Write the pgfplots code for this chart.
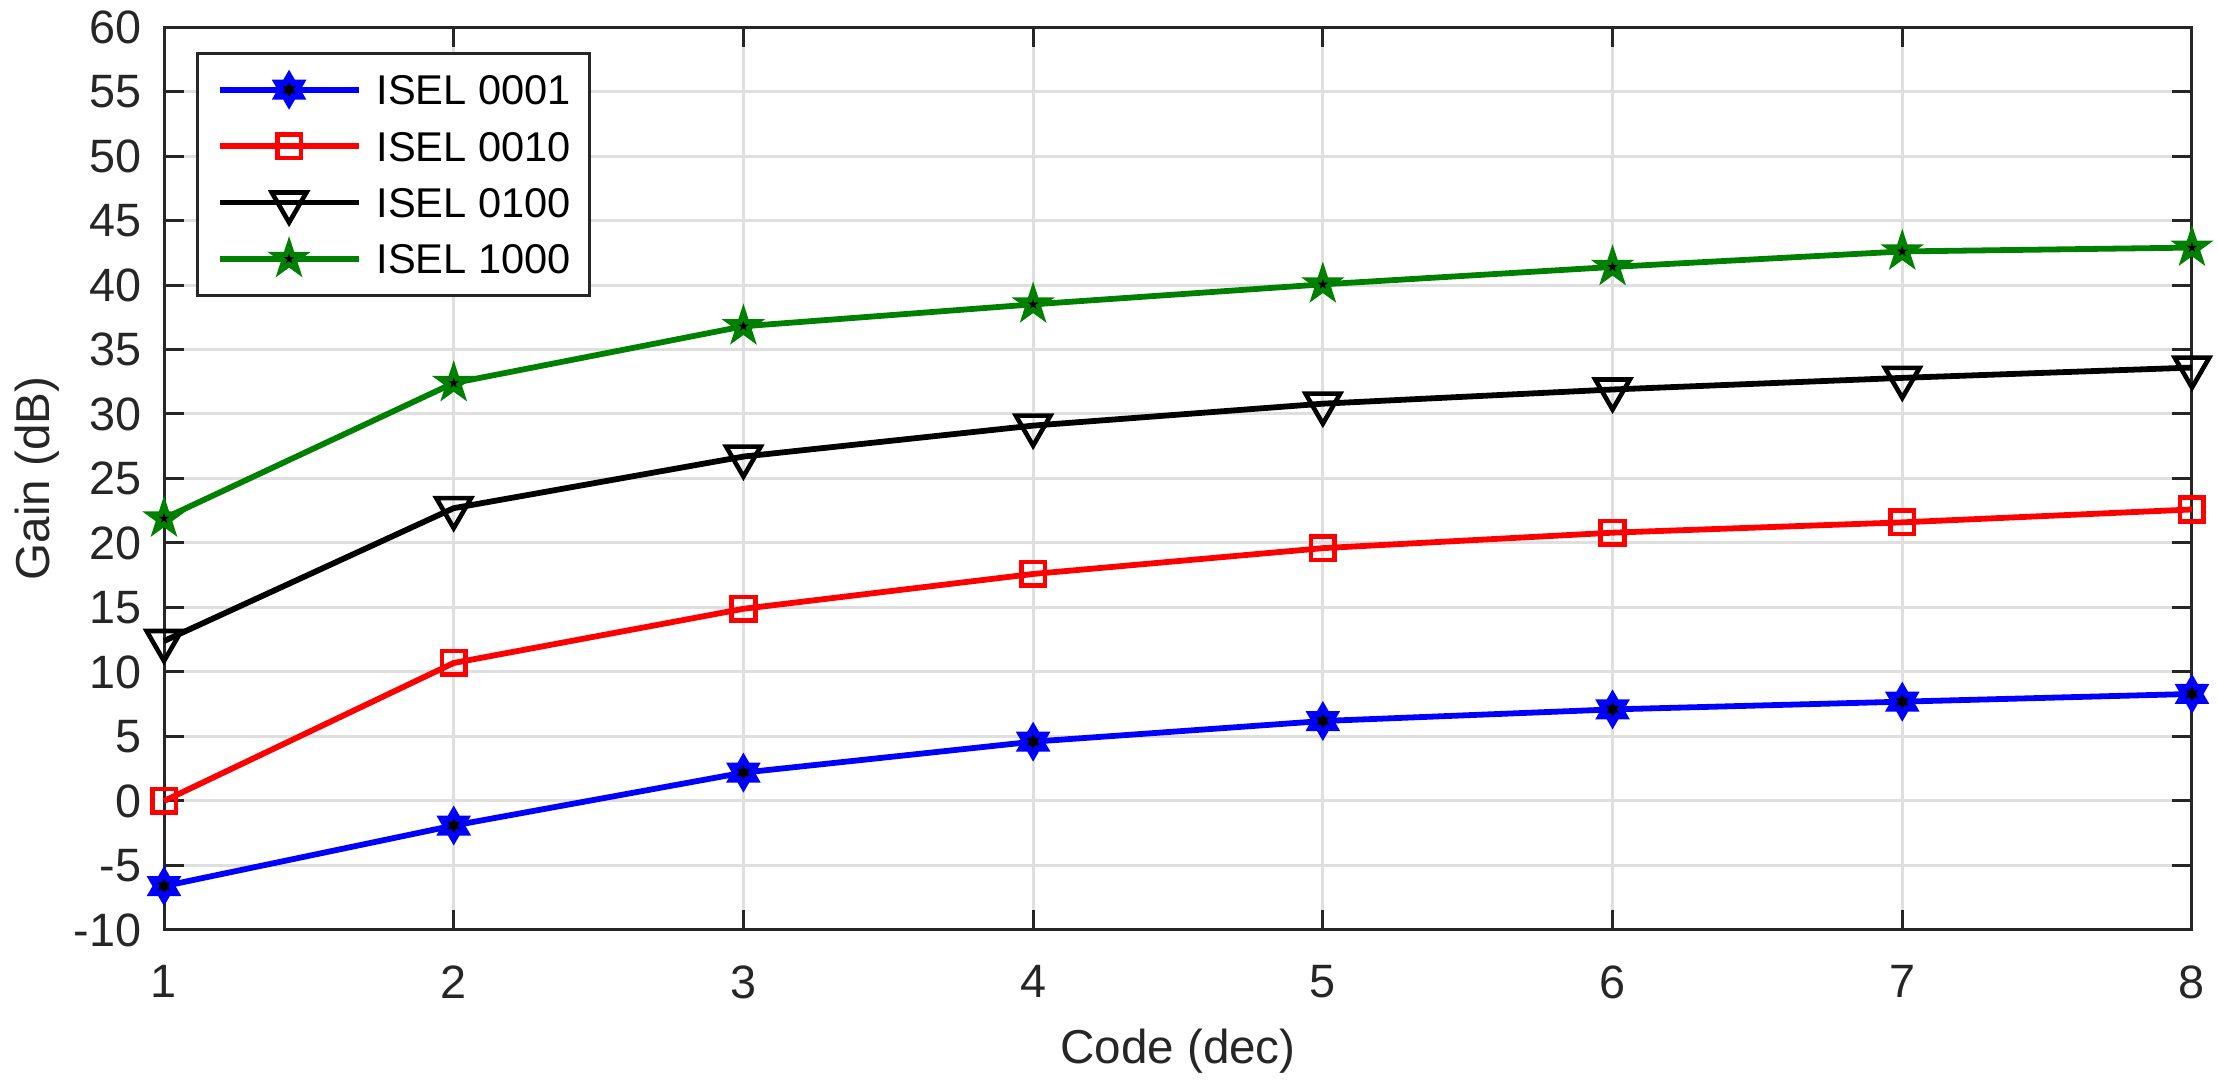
\documentclass[border=0pt]{standalone}
\usepackage{fontspec}
\setmainfont{Liberation Sans}
\usepackage{pgfplots}
\pgfplotsset{compat=1.18}
\usetikzlibrary{plotmarks}
\definecolor{axgray}{HTML}{262626}
\definecolor{gridgray}{HTML}{DFDFDF}
\definecolor{mgreen}{HTML}{008000}

\pgfdeclareplotmark{hexstar}{%
  \pgfpathmoveto{\pgfpointpolar{90}{\pgfplotmarksize}}%
  \pgfpathlineto{\pgfpointpolar{120}{0.57735\pgfplotmarksize}}%
  \pgfpathlineto{\pgfpointpolar{150}{\pgfplotmarksize}}%
  \pgfpathlineto{\pgfpointpolar{180}{0.57735\pgfplotmarksize}}%
  \pgfpathlineto{\pgfpointpolar{210}{\pgfplotmarksize}}%
  \pgfpathlineto{\pgfpointpolar{240}{0.57735\pgfplotmarksize}}%
  \pgfpathlineto{\pgfpointpolar{270}{\pgfplotmarksize}}%
  \pgfpathlineto{\pgfpointpolar{300}{0.57735\pgfplotmarksize}}%
  \pgfpathlineto{\pgfpointpolar{330}{\pgfplotmarksize}}%
  \pgfpathlineto{\pgfpointpolar{0}{0.57735\pgfplotmarksize}}%
  \pgfpathlineto{\pgfpointpolar{30}{\pgfplotmarksize}}%
  \pgfpathlineto{\pgfpointpolar{60}{0.57735\pgfplotmarksize}}%
  \pgfpathclose\pgfusepathqfill
  \pgfscope
  \pgfsetfillcolor{black}%
  \pgfpathmoveto{\pgfpointpolar{90}{1.8pt}}%
  \pgfpathlineto{\pgfpointpolar{120}{1.04pt}}%
  \pgfpathlineto{\pgfpointpolar{150}{1.8pt}}%
  \pgfpathlineto{\pgfpointpolar{180}{1.04pt}}%
  \pgfpathlineto{\pgfpointpolar{210}{1.8pt}}%
  \pgfpathlineto{\pgfpointpolar{240}{1.04pt}}%
  \pgfpathlineto{\pgfpointpolar{270}{1.8pt}}%
  \pgfpathlineto{\pgfpointpolar{300}{1.04pt}}%
  \pgfpathlineto{\pgfpointpolar{330}{1.8pt}}%
  \pgfpathlineto{\pgfpointpolar{0}{1.04pt}}%
  \pgfpathlineto{\pgfpointpolar{30}{1.8pt}}%
  \pgfpathlineto{\pgfpointpolar{60}{1.04pt}}%
  \pgfpathclose\pgfusepathqfill
  \endpgfscope
}

\pgfdeclareplotmark{pentstar}{%
  \pgfpathmoveto{\pgfpointpolar{90}{\pgfplotmarksize}}%
  \pgfpathlineto{\pgfpointpolar{126}{0.382\pgfplotmarksize}}%
  \pgfpathlineto{\pgfpointpolar{162}{\pgfplotmarksize}}%
  \pgfpathlineto{\pgfpointpolar{198}{0.382\pgfplotmarksize}}%
  \pgfpathlineto{\pgfpointpolar{234}{\pgfplotmarksize}}%
  \pgfpathlineto{\pgfpointpolar{270}{0.382\pgfplotmarksize}}%
  \pgfpathlineto{\pgfpointpolar{306}{\pgfplotmarksize}}%
  \pgfpathlineto{\pgfpointpolar{342}{0.382\pgfplotmarksize}}%
  \pgfpathlineto{\pgfpointpolar{18}{\pgfplotmarksize}}%
  \pgfpathlineto{\pgfpointpolar{54}{0.382\pgfplotmarksize}}%
  \pgfpathclose\pgfusepathqfill
  \pgfscope
  \pgfsetfillcolor{black}%
  \pgfpathmoveto{\pgfpointpolar{90}{1.4pt}}%
  \pgfpathlineto{\pgfpointpolar{126}{0.535pt}}%
  \pgfpathlineto{\pgfpointpolar{162}{1.4pt}}%
  \pgfpathlineto{\pgfpointpolar{198}{0.535pt}}%
  \pgfpathlineto{\pgfpointpolar{234}{1.4pt}}%
  \pgfpathlineto{\pgfpointpolar{270}{0.535pt}}%
  \pgfpathlineto{\pgfpointpolar{306}{1.4pt}}%
  \pgfpathlineto{\pgfpointpolar{342}{0.535pt}}%
  \pgfpathlineto{\pgfpointpolar{18}{1.4pt}}%
  \pgfpathlineto{\pgfpointpolar{54}{0.535pt}}%
  \pgfpathclose\pgfusepathqfill
  \endpgfscope
}

\begin{document}
\begin{tikzpicture}
\begin{axis}[
  at={(0pt,0pt)}, anchor=south west,
  scale only axis, width=507pt, height=225.75pt,
  xmin=1, xmax=8, ymin=-10, ymax=60,
  xtick={1,2,3,4,5,6,7,8},
  ytick={-10,-5,0,5,10,15,20,25,30,35,40,45,50,55,60},
  grid=major,
  major grid style={color=gridgray, line width=0.75pt},
  axis line style={color=axgray, line width=0.75pt},
  every tick/.style={color=axgray, line width=0.75pt},
  major tick length=5pt, tick align=inside,
  clip=false,
  /pgf/number format/assume math mode=true,
  ticklabel style={font=\fontsize{11.7}{13}\selectfont, color=axgray},
  yticklabel style={inner sep=0pt, anchor=east, xshift=-5.5pt},
  xticklabel style={inner sep=0pt, anchor=north, yshift=-8.75pt},
  xlabel={Code (dec)}, ylabel={Gain (dB)},
  xlabel style={at={(axis description cs:0.5,-0.14729)}, anchor=base, inner sep=0pt,
    font=\fontsize{11.9}{13}\selectfont, color=axgray},
  ylabel style={at={(axis description cs:-0.05621,0.5)}, anchor=base, inner sep=0pt,
    font=\fontsize{11.9}{13}\selectfont, color=axgray},
  legend style={at={(0,1)}, anchor=north west, xshift=8pt, yshift=-6.25pt,
    draw=axgray, line width=0.75pt, fill=white,
    inner xsep=4.8pt, inner ysep=2pt, row sep=0pt,
    font=\fontsize{10.4}{12}\selectfont,
    nodes={inner sep=0pt, text height=7.45pt, text depth=0pt, minimum height=14.1pt},
    /tikz/every odd column/.append style={column sep=3.75pt}},
  legend cell align=left,
  legend image code/.code={\draw[mark repeat=2,mark phase=2] plot coordinates {(0pt,0pt) (17.375pt,0pt) (34.75pt,0pt)};},
]
\addplot[color=blue, line width=1.45pt, mark=hexstar, mark size=5pt,
  mark options={solid, fill=blue}]
  coordinates {(1,-6.6) (2,-1.9) (3,2.2) (4,4.6) (5,6.2) (6,7.1) (7,7.7) (8,8.3)};
\addlegendentry{ISEL 0001}
\addplot[color=red, line width=1.45pt, mark=square, mark size=2.95pt,
  mark options={solid, line width=1.15pt}]
  coordinates {(1,0.0) (2,10.7) (3,14.9) (4,17.6) (5,19.6) (6,20.8) (7,21.6) (8,22.6)};
\addlegendentry{ISEL 0010}
\addplot[color=black, line width=1.45pt, mark=triangle, mark size=5pt,
  mark options={solid, rotate=180, line width=1.15pt}]
  coordinates {(1,12.4) (2,22.7) (3,26.7) (4,29.1) (5,30.8) (6,31.9) (7,32.8) (8,33.6)};
\addlegendentry{ISEL 0100}
\addplot[color=mgreen, line width=1.45pt, mark=pentstar, mark size=5.7pt,
  mark options={solid, fill=mgreen}]
  coordinates {(1,21.9) (2,32.4) (3,36.8) (4,38.5) (5,40.05) (6,41.4) (7,42.6) (8,42.9)};
\addlegendentry{ISEL 1000}
\end{axis}
\pgfresetboundingbox
\path (-41pt,-40.25pt) rectangle (513.5pt,232.5pt);
\end{tikzpicture}
\end{document}
